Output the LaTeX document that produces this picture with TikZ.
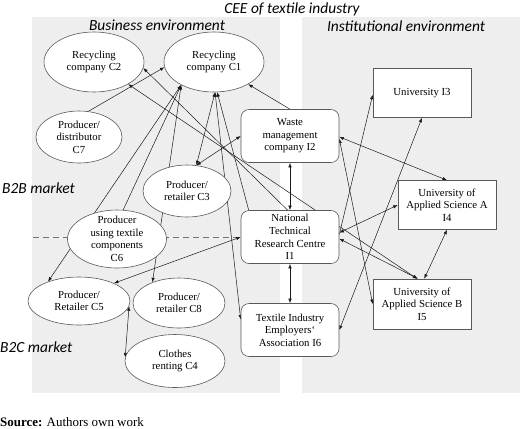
\documentclass[tikz,border=0pt]{standalone}
\usepackage{fontspec}
\setmainfont{Liberation Serif}
\newfontfamily\calfont{Carlito}
\usetikzlibrary{shapes.geometric,arrows.meta}
\pgfdeclarelayer{panels}
\pgfdeclarelayer{links}
\pgfsetlayers{panels,links,main}
\definecolor{panelgray}{RGB}{238,238,238}
\begin{document}
\begin{tikzpicture}[x=1bp,y=-1bp,
  firm/.style={ellipse,draw=black!65,line width=0.6pt,fill=white,inner xsep=0pt,inner ysep=-8pt,align=center,font=\fontsize{10.8}{12.6}\selectfont},
  inst/.style={rectangle,rounded corners=8bp,draw=black!65,line width=0.6pt,fill=white,inner sep=0pt,align=center,minimum width=98bp,minimum height=53bp,font=\fontsize{10.8}{12.6}\selectfont},
  uni/.style={inst,sharp corners,minimum height=49bp},
  head/.style={font=\calfont\itshape\fontsize{15.5}{18}\selectfont,inner sep=0pt},
  link/.style={draw=black!90,line width=0.5pt},
  tohead/.style={link,-{Latex[length=4.5pt,width=3.4pt]}},
  both/.style={link,{Latex[length=4.5pt,width=3.4pt]}-{Latex[length=4.5pt,width=3.4pt]}}]
\useasboundingbox (0,0) rectangle (520,428);
\begin{pgfonlayer}{panels}
\fill[panelgray] (32,17) rectangle (280,393);
\fill[panelgray] (302,17) rectangle (520,393);
\end{pgfonlayer}
\node[head] (cee) at (292,9) {CEE of textile industry};
\node[head] (bus) at (157,25) {Business environment};
\node[head] (ins) at (406,26) {Institutional environment};
\node[head,anchor=west] (b2b) at (2,188) {B2B market};
\node[head,anchor=west] (b2c) at (0,347) {B2C market};
\node[firm,minimum width=100bp,minimum height=60bp] (c2) at (94,62) {Recycling\\company C2};
\node[firm,minimum width=100bp,minimum height=60bp] (c1) at (214,62) {Recycling\\company C1};
\node[firm,minimum width=86bp,minimum height=52bp] (c7) at (79,137) {Producer/\\distributor\\C7};
\node[firm,minimum width=88bp,minimum height=52bp] (c3) at (187,191) {Producer/\\retailer C3};
\node[firm,minimum width=99bp,minimum height=58bp] (c6) at (117,239) {Producer\\using textile\\components\\C6};
\node[firm,minimum width=102bp,minimum height=48bp] (c5) at (79,301) {Producer/\\Retailer C5};
\node[firm,minimum width=92bp,minimum height=50bp] (c8) at (179,303) {Producer/\\retailer C8};
\node[firm,minimum width=100bp,minimum height=53bp] (c4) at (175,361) {Clothes\\renting C4};
\node[inst] (i2) at (290,136) {Waste\\management\\company I2};
\node[inst] (i1) at (290,237) {National\\Technical\\Research Centre\\I1};
\node[inst] (i6) at (290,330) {Textile Industry\\Employers`\\Association I6};
\node[uni] (i3) at (422,93) {University I3};
\node[uni] (i4) at (447,205) {University of\\Applied Science A\\I4};
\node[uni,minimum height=50bp] (i5) at (422,304) {University of\\Applied Science B\\I5};
\coordinate (dl) at (33,237);
\node[anchor=west,inner sep=0pt,font=\fontsize{13}{15}\selectfont] (src) at (0,422) {\textbf{Source:} Authors own work};
\begin{pgfonlayer}{links}
\draw[dashed,black!55,line width=0.7pt,dash pattern=on 6bp off 4bp] (dl) -- (i1.west);
\draw[tohead] (c7.70) -- (c1.186);
\draw[tohead] (i2.north) -- (c1.-33);
\draw[both] (c1.215) -- (c5.148);
\draw[tohead] (c6.78) -- (c1.215);
\draw[both] (c1.215) -- (c8.142);
\draw[both] (c1.272) -- (c3.70);
\draw[both] (c1.272) -- (i6.168);
\draw[tohead] (i1.147) -- (c1.276);
\draw[both] (c3.70) -- (i2.west);
\draw[both] (c5.27) -- (i1.west);
\draw[both] (c5.-6) -- (c4.176);
\draw[both] (c2.-33) -- (i5.101);
\draw[tohead] (i1.95) -- (c2.-7);
\draw[both] (i2.south) -- (i1.north);
\draw[both] (i1.south) -- (i6.north);
\draw[both] (i1.5) -- (i4.west);
\draw[both] (i1.-2) -- (i5.99);
\draw[tohead] (i1.3) -- (i3.182);
\draw[both] (i2.-3) -- (i5.west);
\draw[both] (i2.-1) -- (i4.north);
\draw[both] (i3.south) -- (i6.east);
\draw[both] (i4.south) -- (i5.85);
\end{pgfonlayer}
\end{tikzpicture}
\end{document}
